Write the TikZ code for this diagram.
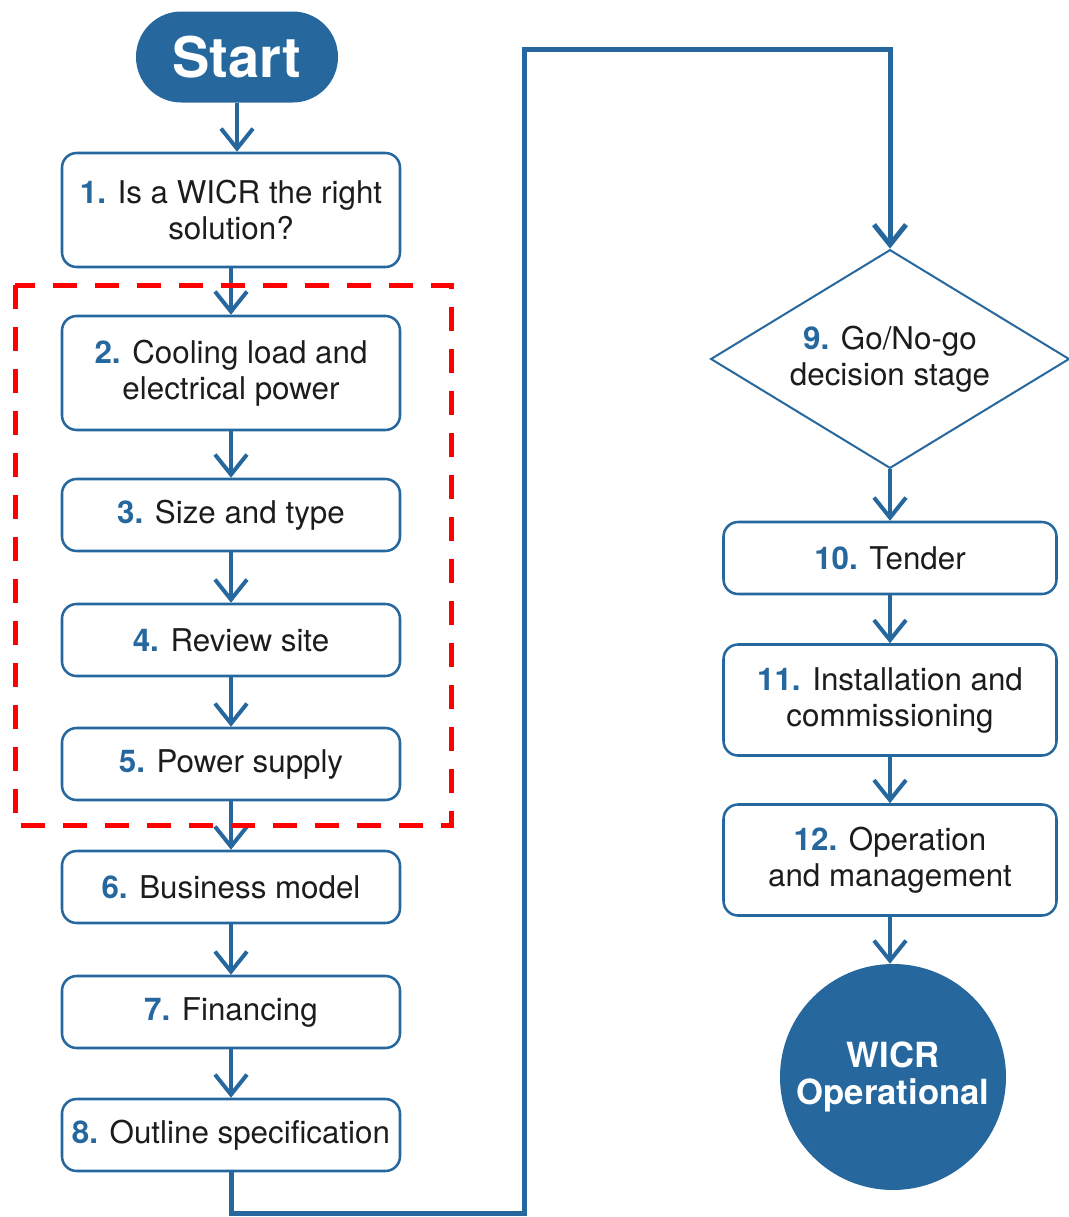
\documentclass[tikz,border=0pt]{standalone}
\usepackage{fontspec}
\setmainfont{TeX Gyre Heros}
\usetikzlibrary{arrows.meta,shapes.geometric}
\definecolor{flowblue}{RGB}{38,104,158}
\definecolor{inkgray}{RGB}{28,28,28}
\newcommand{\stepno}[1]{\textcolor{flowblue}{\bfseries #1}}

\begin{document}
\begin{tikzpicture}[x=0.75pt,y=-0.75pt,
  boxbase/.style={draw=flowblue, line width=1.9pt, rounded corners=11pt,
    inner sep=0pt, align=center, text=inkgray,
    font=\fontsize{23.5}{27}\selectfont},
  leftbox/.style={boxbase, minimum width=253.5pt},
  rightbox/.style={boxbase, minimum width=249.75pt},
  tallbox/.style={minimum height=85.5pt},
  shortbox/.style={minimum height=54pt},
  flow/.style={draw=flowblue, line width=3pt,
    -{Straight Barb[length=15pt,width=24pt]}},
  longflow/.style={flow, line width=3.75pt},
  terminal/.style={fill=flowblue, text=white, inner sep=0pt, align=center}]

\useasboundingbox (0,0) rectangle (1069,1217);

% start terminal
\node[terminal, rounded corners=34pt, minimum width=151.5pt, minimum height=68.25pt,
      font=\fontsize{42}{46}\selectfont\bfseries] (start) at (237,57) {Start};

% left column of steps
\node[leftbox, tallbox]  (b1) at (231,210)  {\stepno{1.} Is a WICR the right\\solution?};
\node[leftbox, tallbox]  (b2) at (231,373)  {\stepno{2.} Cooling load and\\electrical power};
\node[leftbox, shortbox] (b3) at (231,515)  {\stepno{3.} Size and type};
\node[leftbox, shortbox] (b4) at (231,640)  {\stepno{4.} Review site};
\node[leftbox, shortbox] (b5) at (231,764)  {\stepno{5.} Power supply};
\node[leftbox, shortbox] (b6) at (231,887)  {\stepno{6.} Business model};
\node[leftbox, shortbox] (b7) at (231,1012) {\stepno{7.} Financing};
\node[leftbox, shortbox] (b8) at (231,1135) {\stepno{8.} Outline specification};

% right column
\node[draw=flowblue, line width=1.5pt, shape=diamond, shape aspect=1.65, inner sep=0pt,
      minimum width=269pt, minimum height=164pt, align=center, text=inkgray,
      font=\fontsize{23.5}{27}\selectfont] (d9) at (890,359)
      {\stepno{9.} Go/No-go\\decision stage};
\node[rightbox, shortbox] (b10) at (890,558) {\stepno{10.} Tender};
\node[rightbox, minimum height=83.25pt] (b11) at (890,700) {\stepno{11.} Installation and\\commissioning};
\node[rightbox, minimum height=83.25pt] (b12) at (890,860) {\stepno{12.} Operation\\and management};
\node[terminal, circle, minimum size=169.5pt,
      font=\fontsize{26}{28}\selectfont\bfseries] (done) at (893,1077) {WICR\\Operational};

% connectors
\draw[flow] (start.south) -- (start.south |- b1.north);
\draw[flow] (b1) -- (b2);
\draw[flow] (b2) -- (b3);
\draw[flow] (b3) -- (b4);
\draw[flow] (b4) -- (b5);
\draw[flow] (b5) -- (b6);
\draw[flow] (b6) -- (b7);
\draw[flow] (b7) -- (b8);

\coordinate (turnlow) at (524,1213);
\coordinate (turnhigh) at (524,49);
\draw[longflow] (b8.south) |- (turnlow) -- (turnhigh) -| (d9.north);

\draw[flow] (d9) -- (b10);
\draw[flow] (b10) -- (b11);
\draw[flow] (b11) -- (b12);
\draw[flow] (b12.south) -- (b12.south |- done.north);

% highlighted group of planning steps
\draw[red, line width=3.75pt, dash pattern=on 18pt off 13.5pt]
  (15,285) rectangle (451,825);

\end{tikzpicture}
\end{document}
